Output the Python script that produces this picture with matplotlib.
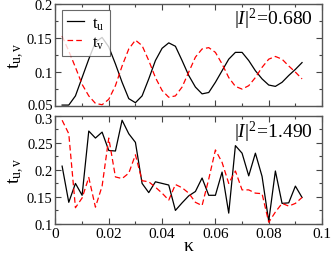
import matplotlib
matplotlib.use('Agg')
import matplotlib.pyplot as plt
import matplotlib.transforms as mtransforms
import numpy as np
from matplotlib.ticker import MultipleLocator

plt.rcParams['font.family'] = ['Liberation Serif', 'DejaVu Serif']
plt.rcParams['mathtext.fontset'] = 'custom'
plt.rcParams['mathtext.rm'] = 'Liberation Serif'
plt.rcParams['mathtext.it'] = 'Liberation Serif:italic'

# kappa grid
kappa = np.arange(1, 38) * 0.0025

# |I|^2 = 0.680
tu_top = [0.0515, 0.0515, 0.065, 0.092, 0.119, 0.144, 0.151, 0.137, 0.112, 0.085,
          0.061, 0.055, 0.065, 0.090, 0.117, 0.135, 0.143, 0.138, 0.117, 0.095,
          0.078, 0.068, 0.070, 0.085, 0.102, 0.119, 0.129, 0.129, 0.117, 0.102,
          0.090, 0.081, 0.079, 0.085, 0.095, 0.104, 0.114]
tv_top = [0.153, 0.131, 0.107, 0.082, 0.065, 0.054, 0.052, 0.060, 0.080, 0.109,
          0.134, 0.147, 0.139, 0.117, 0.092, 0.073, 0.063, 0.065, 0.078, 0.100,
          0.122, 0.134, 0.136, 0.129, 0.112, 0.092, 0.079, 0.075, 0.080, 0.092,
          0.107, 0.119, 0.123, 0.119, 0.109, 0.100, 0.090]

# |I|^2 = 1.490
tu_bot = [0.207, 0.140, 0.175, 0.153, 0.272, 0.259, 0.270, 0.236, 0.235, 0.292,
          0.267, 0.251, 0.175, 0.158, 0.178, 0.175, 0.172, 0.125, 0.139, 0.152,
          0.160, 0.185, 0.153, 0.153, 0.196, 0.120, 0.245, 0.231, 0.189, 0.231,
          0.188, 0.105, 0.198, 0.138, 0.139, 0.170, 0.149]
tv_bot = [0.292, 0.267, 0.130, 0.148, 0.186, 0.131, 0.170, 0.259, 0.187, 0.184,
          0.194, 0.228, 0.180, 0.178, 0.168, 0.157, 0.144, 0.173, 0.167, 0.157,
          0.140, 0.134, 0.183, 0.237, 0.214, 0.175, 0.198, 0.163, 0.163, 0.157,
          0.156, 0.103, 0.122, 0.138, 0.133, 0.138, 0.149]

xticks = [0, 0.02, 0.04, 0.06, 0.08, 0.1]
xticklabels = ['0', '0.02', '0.04', '0.06', '0.08', '0.1']
yticks_top = [0.05, 0.1, 0.15, 0.2]
yticklabels_top = ['0.05', '0.1', '0.15', '0.2']
yticks_bot = [0.1, 0.15, 0.2, 0.25, 0.3]
yticklabels_bot = ['0.1', '0.15', '0.2', '0.25', '0.3']

fig = plt.figure(figsize=(3.32, 2.55), dpi=100)
ax1 = fig.add_axes([0.167, 0.580, 0.803, 0.400])
ax2 = fig.add_axes([0.167, 0.118, 0.803, 0.4235])

dash = (0, (4.5, 2.5))
for ax in (ax1, ax2):
    ax.set_xlim(0, 0.1)
    ax.set_xticks(xticks)
    ax.xaxis.set_minor_locator(MultipleLocator(0.01))
    ax.tick_params(which='both', direction='in', top=True, right=True,
                   labelsize=11, color='#444444', pad=2)
    ax.tick_params(which='major', length=4, width=0.8)
    ax.tick_params(which='minor', length=2, width=0.8)
    for s in ax.spines.values():
        s.set_linewidth(1.0)
        s.set_color('#555555')

ax1.plot(kappa, tu_top, color='black', lw=0.9, label=r'$\mathregular{t_u}$')
ax1.plot(kappa, tv_top, color='red', lw=0.9, linestyle=dash,
         label=r'$\mathregular{t_v}$')
ax1.set_ylim(0.05, 0.2)
ax1.set_yticks(yticks_top)
ax1.set_yticklabels(yticklabels_top, fontsize=10.5)
ax1.yaxis.set_minor_locator(MultipleLocator(0.025))
ax1.set_xticklabels([])
ax1.set_ylabel(r'$\mathregular{t_{u,v}}$', fontsize=14, labelpad=1)
leg = ax1.legend(loc='upper left', fontsize=12, frameon=True, fancybox=False,
                 handlelength=1.0, handletextpad=0.5, borderpad=0.3,
                 labelspacing=0.15, borderaxespad=0, bbox_to_anchor=(0.026, 0.94))
leg.get_frame().set_edgecolor('#444444')
leg.get_frame().set_linewidth(0.8)
ax1.text(0.965, 0.86, r'$|I|^2\!=\!0.680$', transform=ax1.transAxes,
         ha='right', va='center', fontsize=14)

ax2.plot(kappa, tu_bot, color='black', lw=0.9)
ax2.plot(kappa, tv_bot, color='red', lw=0.9, linestyle=dash)
ax2.set_ylim(0.1, 0.3)
ax2.set_yticks(yticks_bot)
ax2.set_yticklabels(yticklabels_bot, fontsize=10.5)
ax2.yaxis.set_minor_locator(MultipleLocator(0.025))
ax2.set_xticklabels(xticklabels)
ax2.set_ylabel(r'$\mathregular{t_{u,v}}$', fontsize=14, labelpad=1)
ax2.set_xlabel('κ', fontsize=14, labelpad=-2)
ax2.text(0.965, 0.86, r'$|I|^2\!=\!1.490$', transform=ax2.transAxes,
         ha='right', va='center', fontsize=14)

# the "0.05" and "0.3" labels nearly touch between the panels: ease them apart
lab = ax1.get_yticklabels()[0]
lab.set_transform(lab.get_transform() +
                  mtransforms.ScaledTranslation(0, 2 / 100, fig.dpi_scale_trans))
lab = ax2.get_yticklabels()[-1]
lab.set_transform(lab.get_transform() +
                  mtransforms.ScaledTranslation(0, -2 / 100, fig.dpi_scale_trans))

fig.savefig('out.png', dpi=100)
